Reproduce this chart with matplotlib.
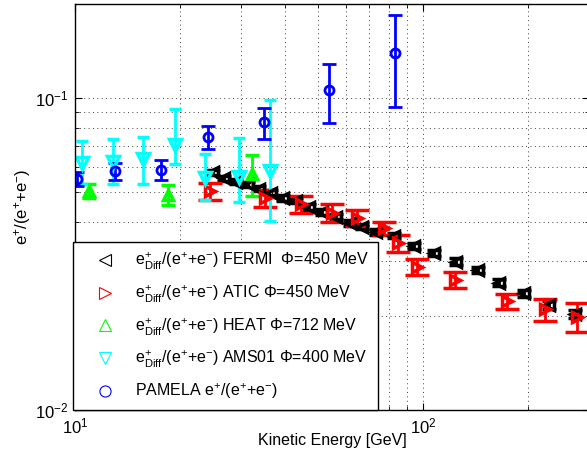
import matplotlib
matplotlib.use("Agg")
import matplotlib.pyplot as plt
from matplotlib.lines import Line2D
from matplotlib.ticker import LogLocator, NullFormatter

plt.rcParams["font.family"] = ["Liberation Sans", "DejaVu Sans"]
plt.rcParams["mathtext.fontset"] = "custom"
plt.rcParams["mathtext.rm"] = "Liberation Sans"
plt.rcParams["mathtext.it"] = "Liberation Sans:italic"
plt.rcParams["mathtext.bf"] = "Liberation Sans:bold"

# FERMI derived positron fraction
fermi_e = [24.9, 26.8, 29.0, 31.4, 33.8, 36.6, 39.6, 43.2, 47.0, 51.3, 56.2, 61.7,
           66.8, 73.3, 82.5, 94.2, 107.5, 124.4, 143.9, 165.4, 195.1, 230.1, 273.4]
fermi_f = [0.0577, 0.0552, 0.0539, 0.0528, 0.0512, 0.0497, 0.0479, 0.0469, 0.0448,
           0.0432, 0.0416, 0.0398, 0.0387, 0.0373, 0.0362, 0.0336, 0.0319, 0.0299,
           0.0281, 0.0256, 0.0237, 0.0217, 0.0203]
fermi_err = [0.0012, 0.0011, 0.0011, 0.0011, 0.0010, 0.0010, 0.0010, 0.0009, 0.0009,
             0.0009, 0.0008, 0.0008, 0.0008, 0.0008, 0.0007, 0.0007, 0.0007, 0.0007,
             0.0006, 0.0006, 0.0006, 0.0006, 0.0006]

# ATIC
atic_e = [24.4, 35.2, 44.5, 54.7, 64.5, 77.3, 84.9, 95.9, 123.6, 174.0, 224.2, 276.5]
atic_f = [0.0503, 0.0478, 0.0456, 0.0428, 0.0413, 0.0383, 0.0342, 0.0288, 0.0261,
          0.0223, 0.0210, 0.0199]
atic_err = [0.0031, 0.0030, 0.0028, 0.0029, 0.0023, 0.0018, 0.0021, 0.0017, 0.0015,
            0.0013, 0.0017, 0.0021]

# HEAT
heat_e = [11.0, 18.5, 32.3]
heat_f = [0.0504, 0.0490, 0.0570]
heat_err = [0.0027, 0.0037, 0.0085]

# AMS01 (asymmetric errors)
ams_e = [10.47, 12.86, 15.68, 19.38, 23.64, 29.66, 36.34]
ams_f = [0.0619, 0.0622, 0.0635, 0.0709, 0.0554, 0.0558, 0.0582]
ams_lo = [0.0088, 0.0094, 0.0107, 0.0097, 0.0082, 0.0095, 0.0178]
ams_hi = [0.0108, 0.0114, 0.0116, 0.0214, 0.0109, 0.0187, 0.0400]

# PAMELA
pam_e = [10.13, 13.03, 17.66, 24.1, 34.9, 53.7, 83.1]
pam_f = [0.0551, 0.0583, 0.0589, 0.0748, 0.0835, 0.1059, 0.1390]
pam_err = [0.0030, 0.0036, 0.0042, 0.0064, 0.0095, 0.0230, 0.0457]

labels = [
    r"e$^{+}_{\mathrm{Diff}}$/(e$^{+}$+e$^{-}$) FERMI  $\Phi$=450 MeV",
    r"e$^{+}_{\mathrm{Diff}}$/(e$^{+}$+e$^{-}$) ATIC $\Phi$=450 MeV",
    r"e$^{+}_{\mathrm{Diff}}$/(e$^{+}$+e$^{-}$) HEAT $\Phi$=712 MeV",
    r"e$^{+}_{\mathrm{Diff}}$/(e$^{+}$+e$^{-}$) AMS01 $\Phi$=400 MeV",
    r"PAMELA e$^{+}$/(e$^{+}$+e$^{-}$)",
]

green = "#00ff00"
cyan = "#00ffff"

fig = plt.figure(figsize=(5.87, 4.61), dpi=100)
ax = fig.add_axes([75 / 587, 1 - 410 / 461, 514 / 587, 406 / 461])
ax.set_xscale("log")
ax.set_yscale("log")

lw = 2.0
ax.errorbar(fermi_e, fermi_f, yerr=fermi_err, fmt="<", color="k", mfc="none",
            ms=7.5, mew=2.5, elinewidth=lw, capsize=5, capthick=lw)
ax.errorbar(atic_e, atic_f, yerr=atic_err, fmt=">", color="r", mfc="none",
            ms=7.5, mew=2.5, elinewidth=lw, capsize=8.5, capthick=lw)
ax.errorbar(heat_e, heat_f, yerr=heat_err, fmt="^", color=green, mfc="none",
            ms=7.5, mew=2.5, elinewidth=lw, capsize=5, capthick=lw)
ax.errorbar(ams_e, ams_f, yerr=[ams_lo, ams_hi], fmt="v", color=cyan, mfc="none",
            ms=9, mew=2.5, elinewidth=lw, capsize=4, capthick=lw)
ax.errorbar(pam_e, pam_f, yerr=pam_err, fmt="o", color="b", mfc="none",
            ms=6.5, mew=lw, elinewidth=lw, capsize=5, capthick=lw)

ax.set_xlim(10, 300)
ax.set_ylim(0.01, 0.2)

ax.xaxis.set_minor_formatter(NullFormatter())
ax.yaxis.set_minor_formatter(NullFormatter())
ax.yaxis.set_minor_locator(LogLocator(base=10, subs=range(2, 10)))
ax.grid(True, which="both", linestyle=(0, (1, 3.5)), linewidth=0.7, color="0.25")
ax.tick_params(which="both", direction="in", top=True, right=True, labelsize=12)
ax.tick_params(which="major", length=5, pad=5)
ax.tick_params(which="minor", length=3)
for s in ax.spines.values():
    s.set_linewidth(1.0)

ax.set_xlabel("Kinetic Energy [GeV]", fontsize=11.5, labelpad=-2.5)
ax.set_ylabel(r"e$^{+}$/(e$^{+}$+e$^{-}$)", fontsize=12, labelpad=1)

colors = ["k", "r", green, cyan, "b"]
markers = ["<", ">", "^", "v", "o"]
handles = [Line2D([], [], ls="none", marker=m, mec=c, mfc="none", ms=8, mew=0.8)
           for m, c in zip(markers, colors)]
leg = ax.legend(handles, labels, loc="lower left",
                bbox_to_anchor=(73 / 587, 1 - 410 / 461),
                bbox_transform=fig.transFigure, borderaxespad=0,
                fontsize=11.5, handlelength=2.9, handletextpad=0.42, borderpad=0.55,
                labelspacing=0.72, fancybox=False, framealpha=1, edgecolor="k")
leg.get_frame().set_linewidth(1.0)

fig.savefig("out.png", dpi=100)
